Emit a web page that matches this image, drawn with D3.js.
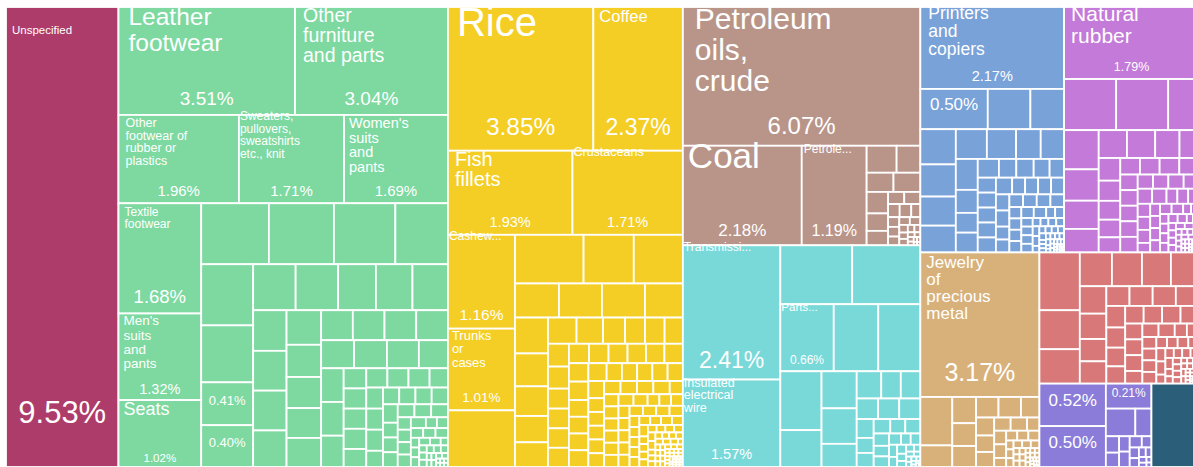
<!DOCTYPE html>
<html>
<head>
<meta charset="utf-8">
<script src="https://cdn.jsdelivr.net/npm/d3@7"></script>
<style>
  body { margin: 0; background: #fff; }
  svg { display: block; }
  text { font-family: "Liberation Sans", Arial, Helvetica, sans-serif; fill: #fff; }
</style>
</head>
<body>
<div class="chart"></div>
<script>
// share of exports (%) per product, each group listed largest first
var unspecifiedNames = ["Unspecified"];
var unspecifiedValues = [9.53];

var textileNames = ["Leather footwear", "Other furniture and parts", "Other footwear of rubber or plastics",
    "Sweaters, pullovers, sweatshirts etc., knit", "Women's suits and pants", "Textile footwear",
    "Men's suits and pants", "Seats"];
var textileValues = [3.51, 3.04, 1.96, 1.71, 1.69, 1.68, 1.32, 1.02,
    0.76, 0.73, 0.69, 0.59, 0.585, 0.545, 0.41, 0.40,
    0.36, 0.36, 0.32, 0.31, 0.30, 0.25, 0.245, 0.245, 0.225,
    0.22, 0.205, 0.198, 0.19, 0.185, 0.175, 0.175, 0.175, 0.175,
    0.17, 0.17, 0.165, 0.15, 0.14, 0.14, 0.13,
    0.084, 0.084, 0.084, 0.084, 0.075, 0.075, 0.075, 0.075, 0.065, 0.065, 0.065, 0.065,
    0.05, 0.05, 0.05, 0.05, 0.05, 0.05, 0.04, 0.04, 0.04, 0.04, 0.04, 0.04,
    0.03, 0.03, 0.03, 0.03, 0.03,
    0.022, 0.022, 0.022, 0.022, 0.022, 0.015, 0.015, 0.015, 0.015, 0.015,
    0.01, 0.01, 0.01, 0.01, 0.01, 0.01, 0.01, 0.006, 0.006, 0.006, 0.006, 0.006, 0.006,
    0.003, 0.003, 0.003, 0.003, 0.003, 0.003];

var foodNames = ["Rice", "Coffee", "Fish fillets", "Crustaceans", "Cashew nuts", "Trunks or cases"];
var foodValues = [3.85, 2.37, 1.93, 1.71, 1.16, 1.01, 0.70,
    0.615, 0.45, 0.44, 0.276, 0.27, 0.27, 0.238,
    0.218, 0.20, 0.18, 0.16, 0.15, 0.138, 0.128, 0.106, 0.096,
    0.095, 0.088, 0.088, 0.085, 0.077, 0.076, 0.075, 0.074, 0.072, 0.07, 0.068,
    0.066, 0.066, 0.066, 0.066, 0.066,
    0.06, 0.06, 0.06, 0.06, 0.06, 0.05, 0.05, 0.05, 0.05, 0.05, 0.05,
    0.04, 0.04, 0.04, 0.04, 0.04, 0.04, 0.04, 0.04, 0.04,
    0.032, 0.032, 0.032, 0.032, 0.032, 0.032, 0.032, 0.032, 0.03,
    0.025, 0.025, 0.025, 0.025, 0.025, 0.025, 0.025, 0.025, 0.025, 0.025, 0.025, 0.025, 0.02,
    0.018, 0.018, 0.018, 0.018, 0.018, 0.018, 0.018, 0.018, 0.018,
    0.012, 0.012, 0.012, 0.012, 0.012, 0.012, 0.012, 0.012, 0.012, 0.012,
    0.008, 0.008, 0.008, 0.008, 0.008, 0.008, 0.008, 0.008, 0.008, 0.008,
    0.005, 0.005, 0.005, 0.005, 0.005, 0.005, 0.005, 0.005, 0.005, 0.005, 0.005, 0.005,
    0.003, 0.003, 0.003, 0.003, 0.003, 0.003, 0.003, 0.003, 0.003, 0.003, 0.003, 0.003,
    0.0015, 0.0015, 0.0015, 0.0015, 0.0015, 0.0015, 0.0015, 0.0015, 0.0015, 0.0015,
    0.0015, 0.0015, 0.0015, 0.0015, 0.0015];

var mineralNames = ["Petroleum oils, crude", "Coal", "Petroleum oils, refined"];
var mineralValues = [6.07, 2.18, 1.19, 0.149, 0.118, 0.095, 0.095, 0.085, 0.069, 0.057,
    0.036, 0.036, 0.028, 0.028, 0.022, 0.02, 0.02, 0.018, 0.015, 0.015, 0.012, 0.01, 0.01,
    0.009, 0.008, 0.006, 0.005, 0.005, 0.004, 0.003, 0.003, 0.002, 0.002];

var electricNames = ["Transmission apparatus", "Insulated electrical wire", "", "", "Parts of office machines"];
var electricValues = [2.41, 1.57, 0.78, 0.74, 0.66, 0.55, 0.52, 0.447, 0.28, 0.24, 0.23, 0.15,
    0.123, 0.098, 0.098, 0.081, 0.08, 0.08, 0.059, 0.047, 0.044, 0.044,
    0.04, 0.04, 0.035, 0.03, 0.03, 0.025, 0.02, 0.02, 0.018, 0.015, 0.015, 0.012, 0.01, 0.01,
    0.008, 0.007, 0.006, 0.005, 0.005, 0.004, 0.003, 0.003, 0.002, 0.002, 0.002, 0.001];

var officeNames = ["Printers and copiers"];
var officeValues = [2.17, 0.50, 0.316, 0.25, 0.23, 0.21, 0.19, 0.175, 0.17, 0.16, 0.135, 0.128,
    0.125, 0.093, 0.08, 0.08, 0.073, 0.06, 0.06, 0.055, 0.05, 0.05,
    0.05, 0.05, 0.05, 0.05, 0.05, 0.04, 0.04, 0.04, 0.04, 0.04, 0.04,
    0.032, 0.032, 0.032, 0.032, 0.032, 0.032, 0.025, 0.025, 0.025, 0.025, 0.025, 0.025,
    0.018, 0.018, 0.018, 0.018, 0.018, 0.018, 0.012, 0.012, 0.012, 0.012, 0.012, 0.012,
    0.008, 0.008, 0.008, 0.008, 0.008, 0.008, 0.005, 0.005, 0.005, 0.005, 0.005, 0.005, 0.005, 0.005,
    0.003, 0.003, 0.003, 0.003, 0.003, 0.003, 0.003, 0.003,
    0.0015, 0.0015, 0.0015, 0.0015, 0.0015, 0.0015, 0.0015, 0.0015, 0.0015, 0.0015];

var rubberNames = ["Natural rubber"];
var rubberValues = [1.79, 0.49, 0.49, 0.29, 0.25, 0.2, 0.18, 0.15, 0.145, 0.145, 0.125, 0.1,
    0.09, 0.08, 0.075, 0.07, 0.06, 0.06, 0.06, 0.06, 0.06, 0.05, 0.05, 0.05, 0.05, 0.05,
    0.04, 0.04, 0.04, 0.04, 0.04, 0.04, 0.03, 0.03, 0.03, 0.03, 0.03, 0.03,
    0.022, 0.022, 0.022, 0.022, 0.022, 0.022, 0.022, 0.015, 0.015, 0.015, 0.015, 0.015, 0.015, 0.015, 0.015,
    0.01, 0.01, 0.01, 0.01, 0.01, 0.01, 0.01, 0.01,
    0.006, 0.006, 0.006, 0.006, 0.006, 0.006, 0.006, 0.006, 0.006, 0.006,
    0.003, 0.003, 0.003, 0.003, 0.003, 0.003, 0.003, 0.003, 0.003, 0.003,
    0.0015, 0.0015, 0.0015, 0.0015, 0.0015, 0.0015, 0.0015, 0.0015, 0.0015, 0.0015];

var jewelryNames = ["Jewelry of precious metal"];
var jewelryValues = [3.17, 0.285, 0.127, 0.115, 0.1, 0.092, 0.085, 0.085, 0.07, 0.06, 0.055, 0.05,
    0.04, 0.04, 0.03, 0.03, 0.03, 0.02, 0.02, 0.02, 0.02,
    0.012, 0.012, 0.012, 0.012, 0.012, 0.012, 0.007, 0.007, 0.007, 0.007, 0.007, 0.007,
    0.004, 0.004, 0.004, 0.004, 0.004, 0.004, 0.004, 0.004,
    0.002, 0.002, 0.002, 0.002, 0.002, 0.002, 0.002, 0.002];

var metalNames = [];
var metalValues = [0.43, 0.29, 0.256, 0.2, 0.187, 0.18, 0.175, 0.134, 0.124, 0.109, 0.109,
    0.084, 0.084, 0.084, 0.084, 0.075, 0.07, 0.065, 0.06, 0.06, 0.06, 0.06, 0.06, 0.05, 0.05, 0.05,
    0.04, 0.04, 0.04, 0.03, 0.03, 0.03, 0.03, 0.03, 0.03,
    0.022, 0.022, 0.022, 0.022, 0.022, 0.022, 0.015, 0.015, 0.015, 0.015, 0.015, 0.015,
    0.01, 0.01, 0.01, 0.01, 0.01, 0.01, 0.006, 0.006, 0.006, 0.006, 0.006, 0.006, 0.006, 0.006,
    0.003, 0.003, 0.003, 0.003, 0.003, 0.003, 0.003, 0.003,
    0.0015, 0.0015, 0.0015, 0.0015, 0.0015, 0.0015, 0.0015, 0.0015];

var instrumentNames = [];
var instrumentValues = [0.52, 0.50, 0.21, 0.15, 0.082, 0.04, 0.035, 0.03, 0.03,
    0.025, 0.02, 0.018, 0.015, 0.012, 0.01, 0.008, 0.006, 0.005, 0.004];

var otherNames = [];
var otherValues = [0.73];

// colours per group
var groupColors = {
    unspecified: "#ae3c6a", textiles: "#7dd9a0", food: "#f4ce25", minerals: "#b99589",
    electric: "#79d9d9", office: "#79a2d9", rubber: "#c37ad8", jewelry: "#d8b17a",
    metals: "#d87878", instruments: "#8a7cd8", other: "#2b5e78"
};

// label placement: name lines, font sizes, offsets inside the cell
var labelSpec = {
    "Unspecified": { lines: ["Unspecified"], fs: 11.5, nx: 6, ny: 27, ps: 31, pb: 44 },
    "Leather footwear": { lines: ["Leather", "footwear"], fs: 24.5, lh: 25.5, nx: 10, ny: 18, ps: 19, pb: 10 },
    "Other furniture and parts": { lines: ["Other", "furniture", "and parts"], fs: 19.5, lh: 20, nx: 8, ny: 15, ps: 19, pb: 10 },
    "Other footwear of rubber or plastics": { lines: ["Other", "footwear of", "rubber or", "plastics"], fs: 12.5, lh: 12.7, nx: 7, ny: 12, ps: 15, pb: 7 },
    "Sweaters, pullovers, sweatshirts etc., knit": { lines: ["Sweaters,", "pullovers,", "sweatshirts", "etc., knit"], fs: 12, lh: 12.7, nx: 1, ny: 5, ps: 15, pb: 7 },
    "Women's suits and pants": { lines: ["Women's", "suits", "and", "pants"], fs: 14.5, lh: 14.7, nx: 5, ny: 13, ps: 15, pb: 7 },
    "Textile footwear": { lines: ["Textile", "footwear"], fs: 12, lh: 12, nx: 6, ny: 13, ps: 18.5, pb: 10 },
    "Men's suits and pants": { lines: ["Men's", "suits", "and", "pants"], fs: 13.5, lh: 14.3, nx: 5, ny: 12, ps: 14.5, pb: 6 },
    "Seats": { lines: ["Seats"], fs: 18, nx: 5, ny: 15, ps: 11.5, pb: 5 },
    "textiles-14": { ps: 13 },
    "textiles-15": { ps: 13 },
    "Rice": { lines: ["Rice"], fs: 40, nx: 9, ny: 29, ps: 24.5, pb: 16 },
    "Coffee": { lines: ["Coffee"], fs: 16.5, nx: 6, ny: 15, ps: 23, pb: 16 },
    "Fish fillets": { lines: ["Fish", "fillets"], fs: 20, lh: 20, nx: 7, ny: 15, ps: 14.5, pb: 8 },
    "Crustaceans": { lines: ["Crustaceans"], fs: 12.5, nx: 1, ny: 5, ps: 14.5, pb: 8 },
    "Cashew nuts": { lines: ["Cashew..."], fs: 12, nx: 1, ny: 5, ps: 15.5, pb: 9 },
    "Trunks or cases": { lines: ["Trunks", "or", "cases"], fs: 13, lh: 13.5, nx: 4, ny: 11, ps: 13.5, pb: 8 },
    "Petroleum oils, crude": { lines: ["Petroleum", "oils,", "crude"], fs: 30, lh: 31, nx: 12, ny: 22, ps: 24, pb: 12 },
    "Coal": { lines: ["Coal"], fs: 35, nx: 5, ny: 22, ps: 17, pb: 9 },
    "Petroleum oils, refined": { lines: ["Petrole..."], fs: 12, nx: 2, ny: 7, ps: 16, pb: 9 },
    "Transmission apparatus": { lines: ["Transmissi..."], fs: 12, nx: 1, ny: 6, ps: 23, pb: 12 },
    "Insulated electrical wire": { lines: ["Insulated", "electrical", "wire"], fs: 12.5, lh: 12.5, nx: 1, ny: 7, ps: 14.5, pb: 8 },
    "Parts of office machines": { lines: ["Parts..."], fs: 11.5, nx: 1, ny: 7, ps: 12, pb: 7 },
    "Printers and copiers": { lines: ["Printers", "and", "copiers"], fs: 17.5, lh: 18, nx: 8, ny: 12, ps: 14.5, pb: 8 },
    "office-1": { ps: 17 },
    "Natural rubber": { lines: ["Natural", "rubber"], fs: 21, lh: 21.5, nx: 7, ny: 14, ps: 12.5, pb: 8 },
    "Jewelry of precious metal": { lines: ["Jewelry", "of", "precious", "metal"], fs: 17, lh: 17, nx: 6, ny: 16, ps: 25, pb: 16 },
    "instruments-0": { ps: 17 },
    "instruments-1": { ps: 17 },
    "instruments-2": { ps: 12 }
};

function makeGroup(id, names, values) {
    return {
        group: id,
        children: values.map(function (v, i) {
            return { key: id + "-" + i, name: names[i] || "", value: v, group: id };
        })
    };
}

// arrangement of the groups: dice = side by side, slice = stacked
var tree = {
    tile: "dice", children: [
        makeGroup("unspecified", unspecifiedNames, unspecifiedValues),
        makeGroup("textiles", textileNames, textileValues),
        makeGroup("food", foodNames, foodValues),
        { tile: "slice", children: [
            makeGroup("minerals", mineralNames, mineralValues),
            makeGroup("electric", electricNames, electricValues)
        ] },
        { tile: "slice", children: [
            { tile: "dice", children: [
                makeGroup("office", officeNames, officeValues),
                makeGroup("rubber", rubberNames, rubberValues)
            ] },
            { tile: "dice", children: [
                makeGroup("jewelry", jewelryNames, jewelryValues),
                { tile: "slice", children: [
                    makeGroup("metals", metalNames, metalValues),
                    { tile: "dice", children: [
                        makeGroup("instruments", instrumentNames, instrumentValues),
                        makeGroup("other", otherNames, otherValues)
                    ] }
                ] }
            ] }
        ] }
    ]
};

var svgWidth = 1193, svgHeight = 467;
var margin = { top: 7, left: 6 };
var width = 1193, height = 460;

var svg = d3.select(".chart").append("svg")
    .attr("width", svgWidth)
    .attr("height", svgHeight);

var chartGroup = svg.append("g")
    .attr("transform", `translate(${margin.left}, ${margin.top})`);

var root = d3.hierarchy(tree).sum(d => d.children ? 0 : d.value);

var squarify = d3.treemapSquarify.ratio(1);
d3.treemap()
    .size([width, height])
    .tile(function (node, x0, y0, x1, y1) {
        if (node.data.tile === "dice") d3.treemapDice(node, x0, y0, x1, y1);
        else if (node.data.tile === "slice") d3.treemapSlice(node, x0, y0, x1, y1);
        else squarify(node, x0, y0, x1, y1);
    })(root);

var leaves = root.leaves();

chartGroup.selectAll("rect")
    .data(leaves)
    .enter()
    .append("rect")
    .attr("x", d => d.x0)
    .attr("y", d => d.y0)
    .attr("width", d => Math.max(0, d.x1 - d.x0))
    .attr("height", d => Math.max(0, d.y1 - d.y0))
    .attr("fill", d => groupColors[d.data.group])
    .attr("stroke", "#fff")
    .attr("stroke-width", 1.8);

var labelled = leaves.filter(d => labelSpec[d.data.name] || labelSpec[d.data.key]);
var labelGroup = chartGroup.append("g");

labelled.forEach(function (d) {
    var s = labelSpec[d.data.name] || labelSpec[d.data.key];
    if (s.lines) {
        var t = labelGroup.append("text")
            .attr("font-size", s.fs);
        s.lines.forEach(function (line, i) {
            t.append("tspan")
                .attr("x", d.x0 + s.nx)
                .attr("y", d.y0 + s.ny + i * (s.lh || s.fs))
                .text(line);
        });
    }
    var py = s.pb != null ? d.y1 - s.pb : (d.y0 + d.y1) / 2 + 1;
    labelGroup.append("text")
        .attr("font-size", s.ps)
        .attr("text-anchor", "middle")
        .attr("x", (d.x0 + d.x1) / 2)
        .attr("y", py)
        .text(d.data.value.toFixed(2) + "%");
});
</script>
</body>
</html>
